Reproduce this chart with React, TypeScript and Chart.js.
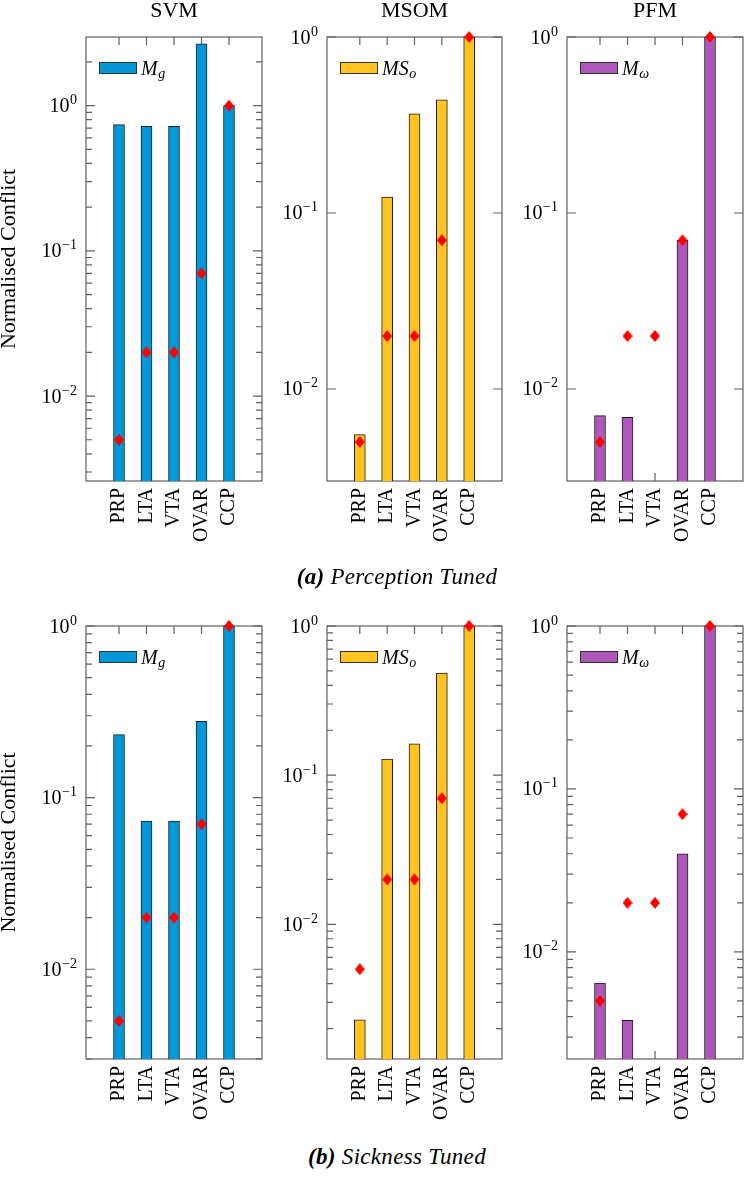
import { useEffect, useRef } from "react";
import { Chart, registerables, type Plugin } from "chart.js";

Chart.register(...registerables);

const CATEGORIES = ["PRP", "LTA", "VTA", "OVAR", "CCP"];
// red diamonds, same in every panel
const TARGET = [0.005, 0.02, 0.02, 0.07, 1.0];

// (a) perception tuned
const SVM_PERCEPTION = [0.74, 0.72, 0.72, 2.66, 1.0];
const MSOM_PERCEPTION = [0.0055, 0.123, 0.366, 0.44, 1.0];
const PFM_PERCEPTION = [0.00705, 0.0069, null, 0.07, 1.0];

// (b) sickness tuned
const SVM_SICKNESS = [0.233, 0.073, 0.073, 0.278, 1.0];
const MSOM_SICKNESS = [0.00229, 0.128, 0.162, 0.483, 1.0];
const PFM_SICKNESS = [0.00644, 0.0038, null, 0.04, 1.0];

const MODELS = ["SVM", "MSOM", "PFM"];
const LEGEND_BASE = ["M", "MS", "M"];
const LEGEND_SUB = ["g", "o", "ω"];
const COLORS = ["#0098D8", "#FFC41F", "#AE58B9"];

const Y_TICKS = [0.01, 0.1, 1];
const Y_TICK_EXP = ["−2", "−1", "0"];
const Y_TITLE = "Normalised Conflict";

const Y_MIN_PERCEPTION = [0.0026, 0.003, 0.003];
const Y_MAX_PERCEPTION = [2.97, 1, 1];
const Y_MIN_SICKNESS = [0.003, 0.00125, 0.0022];
const Y_MAX_SICKNESS = [1, 1, 1];

const CAPTION_TAGS = ["(a)", "(b)"];
const CAPTION_TEXT = ["Perception Tuned", "Sickness Tuned"];

const SERIF = '"Liberation Serif", "Times New Roman", serif';
const FRAME = "#606060";

// page layout of the plot areas
const PLOT_LEFT = [86, 327, 567];
const PLOT_RIGHT = [268, 508, 749];
const ROWS = [
  { canvasTop: 0, plotTop: 37, plotBottom: 481, caption: 563 },
  { canvasTop: 590, plotTop: 626, plotBottom: 1059, caption: 1143 },
];
const X_AXIS_H = 70;

function makeDiamond(w: number, h: number, color: string) {
  const c = document.createElement("canvas");
  c.width = w;
  c.height = h;
  const g = c.getContext("2d")!;
  g.fillStyle = color;
  g.beginPath();
  g.moveTo(w / 2, 0);
  g.lineTo(w, h / 2);
  g.lineTo(w / 2, h);
  g.lineTo(0, h / 2);
  g.closePath();
  g.fill();
  return c;
}

const framePlugin: Plugin = {
  id: "frame",
  beforeDatasetsDraw(chart, _args, opts: any) {
    const { ctx, chartArea: a } = chart;
    const x = chart.scales.x;
    const y = chart.scales.y;
    ctx.save();
    ctx.strokeStyle = FRAME;
    ctx.lineWidth = 1.2;
    ctx.strokeRect(a.left, a.top, a.width, a.height);

    ctx.beginPath();
    CATEGORIES.forEach((_, i) => {
      const px = x.getPixelForValue(i);
      ctx.moveTo(px, a.top);
      ctx.lineTo(px, a.top + 8);
      ctx.moveTo(px, a.bottom);
      ctx.lineTo(px, a.bottom - 8);
    });
    const lo = Math.floor(Math.log10(y.min));
    const hi = Math.ceil(Math.log10(y.max));
    for (let d = lo; d <= hi; d++) {
      for (let k = 1; k <= 9; k++) {
        const v = k * Math.pow(10, d);
        if (v < y.min || v > y.max * 1.0001) continue;
        if (k !== 1 && !opts.minor) continue;
        const len = k === 1 ? 9 : 6;
        const py = y.getPixelForValue(v);
        ctx.moveTo(a.left, py);
        ctx.lineTo(a.left + len, py);
        ctx.moveTo(a.right, py);
        ctx.lineTo(a.right - len, py);
      }
    }
    ctx.stroke();

    // y tick labels: 10 with a raised exponent
    ctx.fillStyle = "#000";
    ctx.textAlign = "left";
    ctx.textBaseline = "alphabetic";
    Y_TICKS.forEach((v, i) => {
      if (v < y.min || v > y.max * 1.0001) return;
      const py = y.getPixelForValue(v);
      ctx.font = `14px ${SERIF}`;
      const ew = ctx.measureText(Y_TICK_EXP[i]).width;
      ctx.font = `20px ${SERIF}`;
      const bw = ctx.measureText("10").width;
      const xEnd = a.left - 9;
      ctx.fillText("10", xEnd - ew - bw - 0.5, py + 6.5);
      ctx.font = `14px ${SERIF}`;
      ctx.fillText(Y_TICK_EXP[i], xEnd - ew, py - 1.5);
    });
    ctx.restore();
  },
  afterDraw(chart, _args, opts: any) {
    const { ctx, chartArea: a } = chart;
    ctx.save();
    // legend
    const lx = a.left + 13;
    const ly = a.top + 31;
    ctx.fillStyle = opts.color;
    ctx.fillRect(lx, ly - 6, 38, 12);
    ctx.strokeStyle = "#333";
    ctx.lineWidth = 1;
    ctx.strokeRect(lx + 0.5, ly - 5.5, 37, 11);
    ctx.fillStyle = "#000";
    ctx.textBaseline = "alphabetic";
    ctx.textAlign = "left";
    ctx.font = `italic 20px ${SERIF}`;
    const tx = lx + 42;
    ctx.fillText(opts.base, tx, ly + 7);
    const w = ctx.measureText(opts.base).width;
    ctx.font = `italic 14px ${SERIF}`;
    ctx.fillText(opts.sub, tx + w + 0.5, ly + 10);
    // panel title
    if (opts.title) {
      ctx.font = `22px ${SERIF}`;
      ctx.textAlign = "center";
      ctx.textBaseline = "middle";
      ctx.fillText(opts.title, (a.left + a.right) / 2, a.top - 26);
    }
    ctx.restore();
  },
};

function Panel({
  row,
  col,
  values,
  yMin,
  yMax,
  minor,
}: {
  row: number;
  col: number;
  values: (number | null)[];
  yMin: number;
  yMax: number;
  minor: boolean;
}) {
  const canvasRef = useRef<HTMLCanvasElement>(null);
  const { canvasTop, plotTop, plotBottom } = ROWS[row];
  const axisW = col === 0 ? 86 : 60;
  const left = PLOT_LEFT[col] - axisW;
  const width = PLOT_RIGHT[col] + 1 - left;
  const height = plotBottom + X_AXIS_H - canvasTop;

  useEffect(() => {
    if (!canvasRef.current) return;
    const chart = new Chart(canvasRef.current, {
      type: "bar",
      data: {
        datasets: [
          {
            type: "line",
            data: TARGET.map((v, i) => ({ x: i, y: v })),
            showLine: false,
            pointStyle: makeDiamond(10, 12, "#ff0000"),
            pointRadius: 6,
            clip: false,
          } as any,
          {
            type: "bar",
            data: values.map((v, i) => ({ x: i, y: v })),
            backgroundColor: COLORS[col],
            borderColor: "#1e1e1e",
            borderWidth: 1,
            barThickness: 11,
          },
        ],
      },
      options: {
        responsive: true,
        maintainAspectRatio: false,
        animation: false,
        layout: { padding: { top: plotTop - canvasTop, right: 1, left: 0, bottom: 0 } },
        plugins: {
          legend: { display: false },
          tooltip: { enabled: false },
          frame: {
            color: COLORS[col],
            base: LEGEND_BASE[col],
            sub: LEGEND_SUB[col],
            title: row === 0 ? MODELS[col] : "",
            minor,
          },
        } as any,
        scales: {
          x: {
            type: "linear",
            offset: false,
            min: -1.2,
            max: 5.2,
            grid: { display: false, drawTicks: false },
            border: { display: false },
            afterBuildTicks: (s: any) => {
              s.ticks = CATEGORIES.map((_, i) => ({ value: i }));
            },
            afterFit: (s: any) => {
              s.height = X_AXIS_H;
            },
            ticks: {
              autoSkip: false,
              minRotation: 90,
              maxRotation: 90,
              padding: 7,
              color: "#000",
              font: { family: SERIF, size: 20 },
              callback: (v: any) => CATEGORIES[v as number] ?? "",
            },
          },
          y: {
            type: "logarithmic",
            min: yMin,
            max: yMax,
            grid: { display: false, drawTicks: false },
            border: { display: false },
            afterBuildTicks: (s: any) => {
              s.ticks = Y_TICKS.filter((v) => v >= yMin && v <= yMax * 1.0001).map((v) => ({ value: v }));
            },
            afterFit: (s: any) => {
              s.width = axisW;
            },
            ticks: { display: false },
            title: {
              display: col === 0,
              text: Y_TITLE,
              color: "#000",
              font: { family: SERIF, size: 22, lineHeight: 0.8 },
              padding: { top: 0, bottom: 0 },
            },
          },
        },
      },
      plugins: [framePlugin],
    });
    return () => chart.destroy();
  }, [row, col, values, yMin, yMax, minor, axisW, plotTop, canvasTop]);

  return (
    <div style={{ position: "absolute", left, top: canvasTop, width, height }}>
      <canvas ref={canvasRef} />
    </div>
  );
}

function Caption({ row }: { row: number }) {
  return (
    <div
      style={{
        position: "absolute",
        left: 397 - 200,
        width: 400,
        top: ROWS[row].caption,
        textAlign: "center",
        fontFamily: SERIF,
        fontSize: 23,
        lineHeight: "28px",
        fontStyle: "italic",
        letterSpacing: 0.3,
        color: "#000",
      }}
    >
      <b>{CAPTION_TAGS[row]}</b> {CAPTION_TEXT[row]}
    </div>
  );
}

export default function App() {
  const perception = [SVM_PERCEPTION, MSOM_PERCEPTION, PFM_PERCEPTION];
  const sickness = [SVM_SICKNESS, MSOM_SICKNESS, PFM_SICKNESS];
  return (
    <div
      style={{
        position: "absolute",
        left: 0,
        top: 0,
        width: 751,
        height: 1177,
        overflow: "hidden",
        background: "#fff",
      }}
    >
      {perception.map((vals, c) => (
        <Panel
          key={`a${c}`}
          row={0}
          col={c}
          values={vals}
          yMin={Y_MIN_PERCEPTION[c]}
          yMax={Y_MAX_PERCEPTION[c]}
          minor={c === 0}
        />
      ))}
      {sickness.map((vals, c) => (
        <Panel
          key={`b${c}`}
          row={1}
          col={c}
          values={vals}
          yMin={Y_MIN_SICKNESS[c]}
          yMax={Y_MAX_SICKNESS[c]}
          minor
        />
      ))}
      <Caption row={0} />
      <Caption row={1} />
    </div>
  );
}
